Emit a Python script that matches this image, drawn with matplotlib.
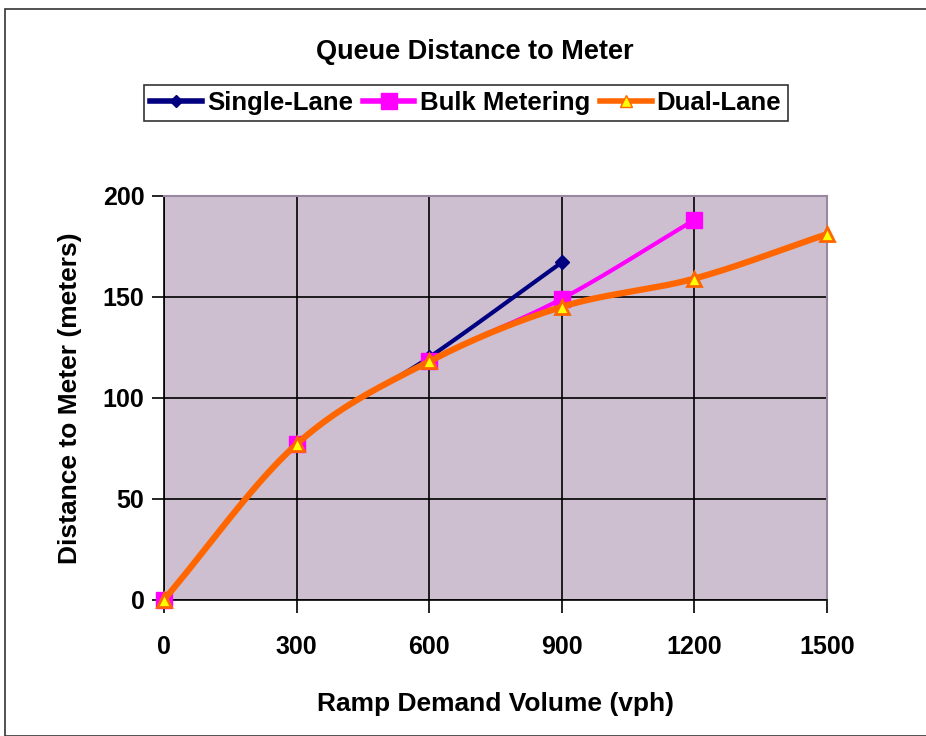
import numpy as np
import matplotlib
matplotlib.use("Agg")
import matplotlib.pyplot as plt
from matplotlib.patches import Rectangle

plt.rcParams['font.family'] = ['Liberation Sans', 'DejaVu Sans']
plt.rcParams['font.weight'] = 'bold'
plt.rcParams['axes.labelweight'] = 'bold'

# data
single_x = [0, 300, 600, 900]
single_y = [0, 77, 120, 167]
bulk_x = [0, 300, 600, 900, 1200]
bulk_y = [0, 77, 118, 149, 188]
dual_x = [0, 300, 600, 900, 1200, 1500]
dual_y = [0, 77, 118, 145, 159, 181]

xticks = [0, 300, 600, 900, 1200, 1500]
yticks = [0, 50, 100, 150, 200]


def smooth(x, y, n=30):
    # catmull-rom through the points, like Excel's smoothed line
    x = np.asarray(x, float)
    y = np.asarray(y, float)
    px = np.concatenate([[2*x[0]-x[1]], x, [2*x[-1]-x[-2]]])
    py = np.concatenate([[2*y[0]-y[1]], y, [2*y[-1]-y[-2]]])
    xs, ys = [], []
    t = np.linspace(0, 1, n)
    for i in range(1, len(px)-2):
        for p, out in ((px, xs), (py, ys)):
            p0, p1, p2, p3 = p[i-1], p[i], p[i+1], p[i+2]
            v = 0.5*((2*p1) + (-p0+p2)*t + (2*p0-5*p1+4*p2-p3)*t**2 + (-p0+3*p1-3*p2+p3)*t**3)
            out.extend(v)
    return xs, ys


fig = plt.figure(figsize=(9.26, 7.36), dpi=100)
fig.patches.append(Rectangle((0.005, 0.0), 1.2, 0.988, transform=fig.transFigure,
                             fill=False, edgecolor='#333333', linewidth=1.2))

ax = fig.add_axes([0.177, 0.185, 0.716, 0.549])
ax.set_facecolor('#CDBFD0')

sx, sy = smooth(single_x, single_y)
ax.plot(sx, sy, color='#000080', lw=3, zorder=3)
ax.plot(single_x, single_y, ls='none', marker='D', ms=7, color='#000080', zorder=4)

bx, by = smooth(bulk_x, bulk_y)
ax.plot(bx, by, color='#FF00FF', lw=3, zorder=3)
ax.plot(bulk_x, bulk_y, ls='none', marker='s', ms=11, color='#FF00FF', zorder=4)

dx, dy = smooth(dual_x, dual_y)
ax.plot(dx, dy, color='#FF6600', lw=4.5, zorder=5)
ax.plot(dual_x, dual_y, ls='none', marker='^', ms=10, mfc='#FFFF00', mec='#FF6600',
        mew=2, zorder=6)

# legend handles
h1, = ax.plot([], [], color='#000080', lw=4, marker='D', ms=6, label='Single-Lane')
h2, = ax.plot([], [], color='#FF00FF', lw=4, marker='s', ms=11, label='Bulk Metering')
h3, = ax.plot([], [], color='#FF6600', lw=4, marker='^', ms=9, mfc='#FFFF00',
              mec='#FF6600', label='Dual-Lane')
leg = fig.legend(handles=[h1, h2, h3], loc='center', bbox_to_anchor=(0.503, 0.860),
                 ncol=3, frameon=True, fancybox=False, fontsize=18.5, handlelength=2.0,
                 handletextpad=0.2, columnspacing=0.4, borderpad=0.25, borderaxespad=0)
leg.get_frame().set_edgecolor('black')
leg.get_frame().set_linewidth(1.2)

ax.set_xlim(0, 1500)
ax.set_ylim(0, 200)
ax.set_xticks(xticks)
ax.set_yticks(yticks)
ax.grid(True, color='black', lw=1.2)
ax.set_axisbelow(True)
ax.tick_params(axis='both', direction='out', length=9, width=1.2, labelsize=18)
ax.tick_params(axis='x', pad=16)
ax.tick_params(axis='y', pad=5)
for s in ['left', 'bottom']:
    ax.spines[s].set_color('black')
    ax.spines[s].set_linewidth(1.2)
for s in ['top', 'right']:
    ax.spines[s].set_color('#9A88A0')
    ax.spines[s].set_linewidth(1.5)
for c in ax.get_lines():
    c.set_clip_on(False)

ax.set_xlabel('Ramp Demand Volume (vph)', fontsize=19, labelpad=24)
ax.set_ylabel('Distance to Meter (meters)', fontsize=19, labelpad=15)
fig.text(0.513, 0.929, 'Queue Distance to Meter', ha='center', va='center',
         fontsize=19.5, fontweight='bold')

fig.savefig('out.png', dpi=100)
